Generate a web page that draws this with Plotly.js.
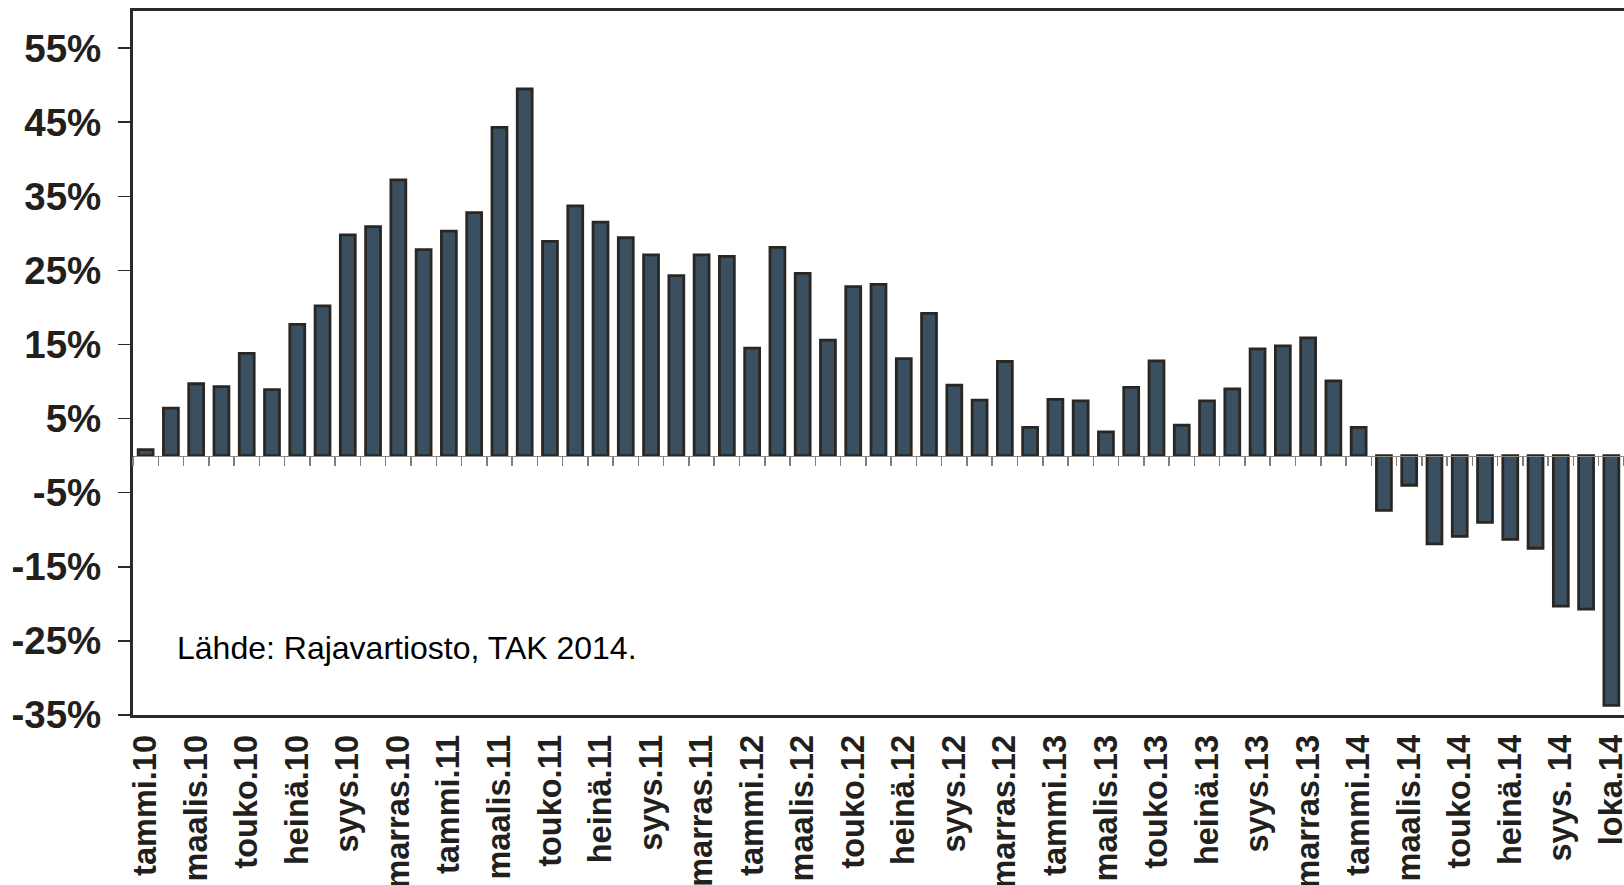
<!DOCTYPE html>
<html>
<head>
<meta charset="utf-8">
<script src="https://cdn.plot.ly/plotly-3.0.1.min.js"></script>
<style>
  html, body { margin: 0; padding: 0; background: #ffffff; overflow: hidden; }
  #chart { width: 1624px; height: 885px; }
</style>
</head>
<body>
<div id="chart"></div>
<script>
// Months (categories)
const categories = [
  "tammi.10","helmi.10","maalis.10","huhti.10","touko.10","kesä.10","heinä.10","elo.10","syys.10","loka.10","marras.10","joulu.10",
  "tammi.11","helmi.11","maalis.11","huhti.11","touko.11","kesä.11","heinä.11","elo.11","syys.11","loka.11","marras.11","joulu.11",
  "tammi.12","helmi.12","maalis.12","huhti.12","touko.12","kesä.12","heinä.12","elo.12","syys.12","loka.12","marras.12","joulu.12",
  "tammi.13","helmi.13","maalis.13","huhti.13","touko.13","kesä.13","heinä.13","elo.13","syys.13","loka.13","marras.13","joulu.13",
  "tammi.14","helmi.14","maalis.14","huhti.14","touko.14","kesä.14","heinä.14","elo.14","syys.14","loka.14","marras.14"
];

// Year-on-year change, %
const changePct = [
  0.8, 6.4, 9.7, 9.3, 13.8, 8.9, 17.7, 20.2, 29.8, 30.9, 37.2, 27.8,
  30.3, 32.8, 44.3, 49.5, 28.9, 33.7, 31.5, 29.4, 27.1, 24.3, 27.1, 26.9,
  14.5, 28.1, 24.6, 15.6, 22.8, 23.1, 13.1, 19.2, 9.5, 7.5, 12.7, 3.8,
  7.6, 7.4, 3.2, 9.2, 12.8, 4.1, 7.4, 9.0, 14.4, 14.8, 15.9, 10.1,
  3.8, -7.4, -4.0, -11.9, -10.9, -9.0, -11.3, -12.5, -20.3, -20.7, -33.7
];

// Tick labels shown on the category axis (every second month)
const xTickLabels = [
  "tammi.10","maalis.10","touko.10","heinä.10","syys.10","marras.10",
  "tammi.11","maalis.11","touko.11","heinä.11","syys.11","marras.11",
  "tammi.12","maalis.12","touko.12","heinä.12","syys.12","marras.12",
  "tammi.13","maalis.13","touko.13","heinä.13","syys.13","marras.13",
  "tammi.14","maalis.14","touko.14","heinä.14","syys. 14","loka.14"
];

const yTickVals = [-35, -25, -15, -5, 5, 15, 25, 35, 45, 55];
const yTickText = ["-35%", "-25%", "-15%", "-5%", "5%", "15%", "25%", "35%", "45%", "55%"];

const sourceNote = "Lähde: Rajavartiosto, TAK 2014.";

const xTickVals = categories.filter((c, i) => i % 2 === 0);
const catIndex = categories.map((c, i) => i);

const yMin = -35, yMax = 60;
const FONT = "Liberation Sans, Arial, Helvetica, sans-serif";
const frameColor = "#2b2925";

const barTrace = {
  type: "bar",
  x: categories,
  y: changePct,
  marker: { color: "#3a5061", line: { color: "#2a2723", width: 2.8 } },
  hoverinfo: "x+y"
};

// transparent copy on the secondary axis so that the zero-line axis (ticks between months) is drawn
const axisCarrier = {
  type: "bar",
  x: catIndex,
  y: changePct,
  xaxis: "x2",
  yaxis: "y",
  marker: { color: "rgba(0,0,0,0)", line: { width: 0 } },
  hoverinfo: "skip",
  showlegend: false
};

const layout = {
  width: 1624,
  height: 885,
  margin: { l: 133, r: 0, t: 11, b: 170 },
  paper_bgcolor: "#ffffff",
  plot_bgcolor: "#ffffff",
  showlegend: false,
  bargap: 0.41,
  xaxis: {
    type: "category",
    tickmode: "array",
    tickvals: xTickVals,
    ticktext: xTickLabels,
    tickangle: -90,
    ticks: "",
    ticklabelstandoff: 4,
    tickfont: { family: FONT, size: 32.5, color: "#231f1c", weight: "bold" },
    showgrid: false,
    zeroline: false,
    showline: true,
    linecolor: frameColor,
    linewidth: 3,
    mirror: true
  },
  xaxis2: {
    type: "linear",
    overlaying: "x",
    anchor: "free",
    position: (0 - yMin) / (yMax - yMin),
    range: [-0.5, categories.length - 0.5],
    tickmode: "linear",
    tick0: -0.5,
    dtick: 1,
    ticks: "outside",
    ticklen: 9,
    tickwidth: 1.5,
    tickcolor: "#7d7d7d",
    showticklabels: false,
    showgrid: false,
    zeroline: false,
    showline: true,
    linecolor: "#8a8a8a",
    linewidth: 1.5
  },
  yaxis: {
    range: [yMin, yMax],
    tickmode: "array",
    tickvals: yTickVals,
    ticktext: yTickText,
    ticks: "outside",
    ticklen: 12,
    tickwidth: 1.5,
    tickcolor: frameColor,
    ticklabelstandoff: 9,
    tickfont: { family: FONT, size: 38.5, color: "#231f1c", weight: "bold" },
    showgrid: false,
    zeroline: false,
    showline: true,
    linecolor: frameColor,
    linewidth: 3
  },
  annotations: [{
    text: sourceNote,
    xref: "paper", yref: "paper",
    x: 0.028, y: 0.095,
    xanchor: "left", yanchor: "middle",
    showarrow: false,
    font: { family: FONT, size: 32, color: "#000000" }
  }]
};

Plotly.newPlot("chart", [axisCarrier, barTrace], layout, { displayModeBar: false, staticPlot: true });
</script>
</body>
</html>
